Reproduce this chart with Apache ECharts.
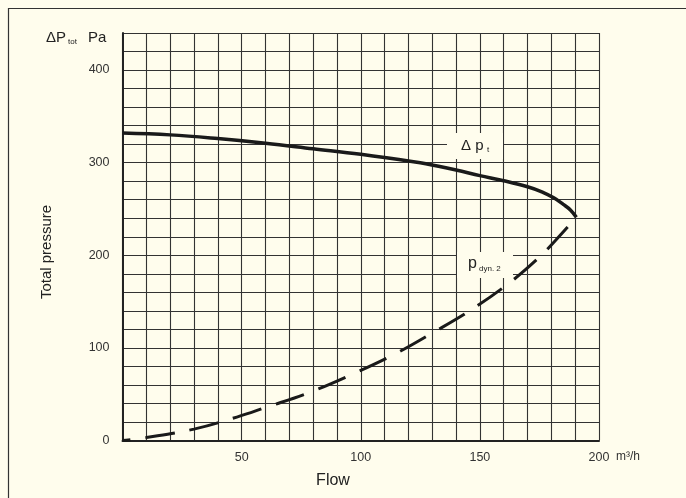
<!DOCTYPE html>
<html>
<head>
<meta charset="utf-8">
<script src="https://cdn.jsdelivr.net/npm/echarts@6/dist/echarts.min.js"></script>
<style>
html,body{margin:0;padding:0;background:#fffded;}
#c{width:686px;height:498px;}
</style>
</head>
<body>
<div id="c"></div>
<script>
// Δp_t curve (flow m³/h, pressure Pa)
var totalFlow     = [0, 20, 40, 60, 80, 100, 125, 140, 150, 160, 170, 176, 181, 185, 188, 190.5];
var totalPressure = [332, 330, 326, 321, 315, 309, 300, 292, 286, 280.5, 274, 268.5, 262, 255, 249, 241];
// p_dyn.2 curve
var dynFlow     = [0, 10, 30, 48, 60, 78.4, 96, 113.7, 130.4, 147, 162.6, 175, 182, 190.5];
var dynPressure = [0, 3.2, 12.3, 25.3, 35.6, 51.8, 71, 92.5, 116.6, 142.2, 170.6, 198, 216.7, 241];
var xTickLabels = [50, 100, 150, 200];
var yTickLabels = [0, 100, 200, 300, 400];

function pairs(xs, ys){ return xs.map(function(x,i){ return [x, ys[i]]; }); }

var FONT = '"Liberation Sans", Arial, sans-serif';
var BG = '#fffded';
var chart = echarts.init(document.getElementById('c'), null, {renderer:'canvas'});
chart.setOption({
  backgroundColor: BG,
  animation: false,
  grid: {left: 122.5, right: 87, top: 33, bottom: 57.5, show: false},
  xAxis: {
    type: 'value', min: 0, max: 200, interval: 10,
    axisLine: {show: true, onZero: false, lineStyle: {color: '#222', width: 2}},
    axisTick: {show: false},
    axisLabel: {
      margin: 11, color: '#333', fontSize: 12.5, fontFamily: FONT,
      formatter: function(v){ return xTickLabels.indexOf(v) >= 0 ? String(v) : ''; }
    },
    splitLine: {show: true, lineStyle: {color: '#333', width: 1.1}}
  },
  yAxis: {
    type: 'value', min: 0, max: 440, interval: 20,
    axisLine: {show: true, onZero: false, lineStyle: {color: '#222', width: 2}},
    axisTick: {show: false},
    axisLabel: {
      margin: 13, color: '#333', fontSize: 12.5, fontFamily: FONT,
      formatter: function(v){ return yTickLabels.indexOf(v) >= 0 ? String(v) : ''; }
    },
    splitLine: {show: true, lineStyle: {color: '#333', width: 1.1}}
  },
  series: [
    {
      type: 'line', data: pairs(totalFlow, totalPressure), smooth: 0.4,
      symbol: 'none', lineStyle: {color: '#1a1a1a', width: 3.5}, z: 5
    },
    {
      type: 'line', data: pairs(dynFlow, dynPressure), smooth: 0.4,
      symbol: 'none', lineStyle: {color: '#1a1a1a', width: 3, type: [30, 15], dashOffset: 22}, z: 5
    }
  ],
  graphic: [
    {type: 'rect', silent: true, z: 100, shape: {x: 8.5, y: 8.5, width: 720, height: 520},
     style: {fill: 'none', stroke: '#333', lineWidth: 1.2}},
    {type: 'text', z: 100, x: 46, y: 38, style: {text: 'ΔP', font: '15px ' + FONT, fill: '#222', textVerticalAlign: 'middle'}},
    {type: 'text', z: 100, x: 68, y: 42, style: {text: 'tot', font: '8px ' + FONT, fill: '#222', textVerticalAlign: 'middle'}},
    {type: 'text', z: 100, x: 88, y: 38, style: {text: 'Pa', font: '15px ' + FONT, fill: '#222', textVerticalAlign: 'middle'}},
    {type: 'text', z: 100, x: 47, y: 252, rotation: Math.PI/2,
     style: {text: 'Total pressure', font: '15px ' + FONT, fill: '#222', textAlign: 'center', textVerticalAlign: 'middle'}},
    {type: 'text', z: 100, x: 333, y: 481, style: {text: 'Flow', font: '16px ' + FONT, fill: '#222', textAlign: 'center', textVerticalAlign: 'middle'}},
    {type: 'text', z: 100, x: 616, y: 457, style: {text: 'm³/h', font: '12px ' + FONT, fill: '#333', textAlign: 'left', textVerticalAlign: 'middle'}},
    {type: 'rect', z: 100, shape: {x: 447, y: 133, width: 56, height: 26}, style: {fill: BG}},
    {type: 'text', z: 101, x: 461, y: 146, style: {text: 'Δ p', font: '15px ' + FONT, fill: '#222', textVerticalAlign: 'middle'}},
    {type: 'text', z: 101, x: 487, y: 150, style: {text: 't', font: '8px ' + FONT, fill: '#222', textVerticalAlign: 'middle'}},
    {type: 'rect', z: 100, shape: {x: 457, y: 252, width: 56, height: 26}, style: {fill: BG}},
    {type: 'text', z: 101, x: 468, y: 264, style: {text: 'p', font: '16px ' + FONT, fill: '#222', textVerticalAlign: 'middle'}},
    {type: 'text', z: 101, x: 479, y: 269, style: {text: 'dyn. 2', font: '8px ' + FONT, fill: '#222', textVerticalAlign: 'middle'}}
  ]
});
</script>
</body>
</html>
